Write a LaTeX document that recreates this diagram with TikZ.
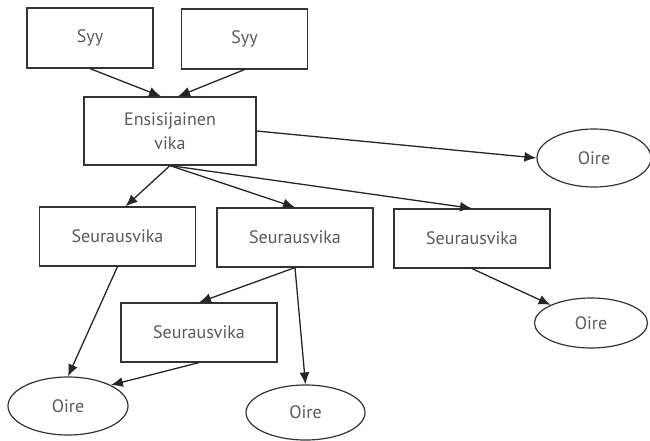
\documentclass[tikz,border=0pt]{standalone}
\usepackage{fontspec}
\setmainfont{PT Sans}
\usetikzlibrary{calc,shapes.geometric,arrows.meta}

\begin{document}
\begin{tikzpicture}[>={Latex[length=12pt,width=10pt]},x=1pt,y=-1pt,
	box/.style={draw=black!80,line width=1.2pt,rectangle,inner sep=0pt,text=black!65,font=\fontsize{18}{24}\selectfont},
	oval/.style={draw=black!80,line width=1.2pt,ellipse,inner sep=0pt,text=black!65,font=\fontsize{18}{24}\selectfont},
	link/.style={->,draw=black!85,line width=1.3pt}]

\useasboundingbox (0,0) rectangle (650,441);

\node [box,minimum width=126pt,minimum height=60pt] (syy1) at (90,38) {Syy};
\node [box,minimum width=126pt,minimum height=60pt] (syy2) at (244.5,39) {Syy};

\node [box,minimum width=172pt,minimum height=68pt,align=center] (ens) at (170,131) {Ensisijainen\\vika};

\foreach \n/\x/\y in {s1/117.5/236.5, s2/295/237.5, s3/472/238.5, s4/199/332.5} {
	\node [box,minimum width=156pt,minimum height=59pt] (\n) at (\x,\y) {Seurausvika};
}

\node [oval,minimum width=114pt,minimum height=58pt] (o1) at (594,158) {Oire};
\node [oval,minimum width=113pt,minimum height=50pt] (o2) at (591,323) {Oire};
\node [oval,minimum width=120pt,minimum height=58pt] (o3) at (68,406) {Oire};
\node [oval,minimum width=119pt,minimum height=55pt] (o4) at (305.5,412.5) {Oire};

\draw [link] (syy1.south) -- ($(ens.north)+(-9,0)$);
\draw [link] (syy2.south) -- ($(ens.north)+(8,0)$);

\draw [link] (ens.east) -- (o1.west);
\draw [link] (ens.south) -- ($(s1.north)+(8,0)$);
\draw [link] (ens.south) -- (s2.north);
\draw [link] (ens.south) -- (s3.north);

\draw [link] (s1.south) -- (o3.north);
\draw [link] (s2.south) -- (s4.north);
\draw [link] (s2.south) -- (o4.north);
\draw [link] (s4.south) -- (o3.north east);
\draw [link] (s3.south) -- (o2.north west);

\end{tikzpicture}
\end{document}
